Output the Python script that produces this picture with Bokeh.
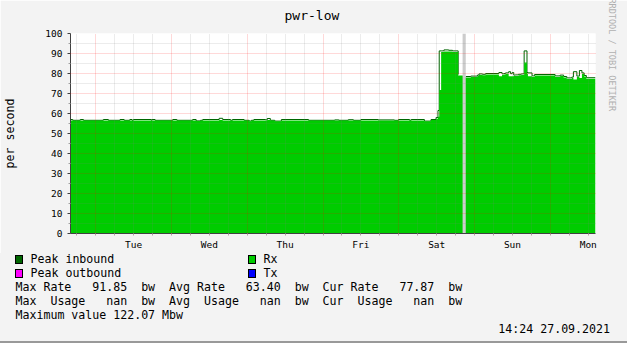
import numpy as np
from bokeh.plotting import figure
from bokeh.models import Range1d, FixedTicker, Title, Div
from bokeh.layouts import column
from bokeh.embed import file_html
from bokeh.resources import INLINE

NAN = float("nan")

# ---- data (hours since Mon 20.09.2021 00:00) ----
HOURS = [16.0, 16.7, 19.1, 20.1, 26.4, 28.0, 31.7, 33.0, 34.8, 35.5, 35.9, 41.6, 41.8, 42.8,
         48.4, 49.7, 54.7, 55.8, 57.2, 57.9, 63.1, 64.2, 66.7, 67.3, 71.0, 72.6, 73.3, 74.1,
         77.8, 78.3, 79.3, 80.7, 82.8, 91.4, 99.7, 101.0, 104.0, 105.6, 108.0, 113.4, 118.6,
         119.9, 123.4, 123.9, 128.1, 130.2, 131.8, 132.4, 132.8, 133.4, 134.3, 135.8, 137.0,
         138.8, 140.2, 141.2, 142.8, 144.9, 145.4, 146.5, 147.5, 151.7, 152.7, 153.3, 153.8,
         154.8, 155.4, 155.9, 156.4, 156.9, 157.9, 158.8, 159.7, 160.6, 160.9, 162.2, 163.0,
         169.5, 171.1, 172.2, 173.2, 174.8, 175.3, 176.4, 177.2, 178.0, 178.7, 179.4, 182.3]
PEAK_INBOUND = [57.0, 56.6, 57.0, 56.6, 57.0, 56.6, 57.0, 56.6, 57.0, 56.6, 57.0, 56.6, 57.0, 56.6,
                57.0, 56.6, 57.0, 56.3, 56.6, 57.0, 57.6, 57.0, 56.6, 57.0, 56.6, 56.2, 56.6, 57.0,
                56.8, 57.5, 56.6, 56.2, 57.0, 56.6, 56.8, 56.6, 56.9, 56.6, 57.0, 56.8, 56.6,
                57.0, 56.6, 57.0, 56.2, 57.0, 58.0, 61.5, 91.3, 91.3, 91.8, 91.6, 91.3,
                79.5, NAN, 78.5, 78.7, 79.2, 79.8, 79.6, 80.0, 80.5, 79.8, 80.0, 80.3,
                80.9, 79.9, 80.5, 79.2, 79.3, 79.6, 79.8, 91.3, 80.5, 80.3, 78.8, 79.5,
                78.8, 79.2, 78.5, 77.8, 78.2, 80.9, 78.7, 81.5, 80.3, 79.0, 77.9, 77.9]
RX = [56.5, 56.5, 56.5, 56.5, 56.5, 56.5, 56.5, 56.5, 56.5, 56.5, 56.5, 56.5, 56.5, 56.5,
      56.5, 56.5, 56.5, 56.2, 56.5, 56.5, 56.7, 56.5, 56.5, 56.5, 56.5, 56.1, 56.5, 56.5,
      56.5, 56.7, 56.5, 56.1, 56.5, 56.5, 56.5, 56.5, 56.5, 56.5, 56.5, 56.5, 56.5,
      56.5, 56.5, 56.5, 56.1, 56.7, 57.4, 58.4, 71.8, 90.8, 91.0, 91.0, 90.8,
      79.0, NAN, 78.0, 78.2, 78.7, 79.3, 79.1, 79.5, 78.6, 79.3, 79.5, 79.8,
      78.6, 78.6, 78.6, 78.7, 78.8, 79.1, 79.3, 85.5, 80.0, 78.6, 78.3, 79.0,
      78.3, 78.7, 78.0, 77.3, 77.7, 77.0, 78.2, 77.8, 79.8, 78.5, 77.4, 77.4]
GAP_START = [140.2]
GAP_END = [141.2]

DAY_NOONS = [36, 60, 84, 108, 132, 156, 180]
DAY_LABELS = ["Tue", "Wed", "Thu", "Fri", "Sat", "Sun", "Mon"]
MIDNIGHTS = [24, 48, 72, 96, 120, 144, 168]
SIX_HOURS = list(range(18, 181, 6))
Y_MAJOR = list(range(0, 101, 10))
Y_MINOR = list(range(5, 100, 10))

TITLE = "pwr-low"
Y_LABEL = "per second"
LEGEND_NAMES = ["Peak inbound", "Rx", "Peak outbound", "Tx"]
LEGEND_COLORS = ["#006600", "#00cc00", "#ff00ff", "#0000ff"]
STAT_LINES = [
    "Max Rate   91.85  bw  Avg Rate   63.40  bw  Cur Rate   77.87  bw",
    "Max  Usage   nan  bw  Avg  Usage   nan  bw  Cur  Usage   nan  bw",
    "Maximum value 122.07 Mbw",
]
TIMESTAMP = "14:24 27.09.2021"
WATERMARK = "RRDTOOL / TOBI OETIKER"

W = 627
TOP_H = 253
LEG_H = 90
MONO = "DejaVu Sans Mono"
BG = "#f3f3f3"

# ---------------- main chart ----------------
p = figure(width=W, height=TOP_H, output_backend="svg", toolbar_location=None,
           x_range=Range1d(16.0, 182.3), y_range=Range1d(0, 100),
           min_border_left=67, min_border_right=32, min_border_top=33, min_border_bottom=20,
           background_fill_color="white", border_fill_color=BG,
           outline_line_color=None)

p.title.text = TITLE
p.title.align = "left"
p.title.offset = 214
p.title.vertical_align = "top"
p.title.standoff = 15.5
p.title.text_font = MONO
p.title.text_font_size = "13px"
p.title.text_font_style = "normal"
p.title.text_color = "black"

p.add_layout(Title(text=WATERMARK, align="left", vertical_align="top", offset=-35,
                   standoff=19, text_font=MONO, text_font_size="8.5px",
                   text_font_style="normal", text_color="#b0b0b0"), "right")

# peak line first, Rx area drawn over it (rrdtool order)
p.step(x=np.array(HOURS), y=np.array(PEAK_INBOUND, dtype=float), mode="after",
       line_color="#006600", line_width=1)
p.varea_step(x=np.array(HOURS), y1=0, y2=np.array(RX, dtype=float), step_mode="after",
             fill_color="#00cc00")
p.quad(left=GAP_START, right=GAP_END, bottom=0, top=100, fill_color="#cccccc", line_color=None)

xa = p.xaxis[0]
xa.ticker = FixedTicker(ticks=DAY_NOONS, minor_ticks=SIX_HOURS)
xa.major_label_overrides = {t: l for t, l in zip(DAY_NOONS, DAY_LABELS)}
xa.major_tick_line_color = None
xa.major_tick_out = 2
xa.major_tick_in = 0
xa.minor_tick_out = 2
xa.minor_tick_in = 0
xa.minor_tick_line_color = "#b0a0a0"
xa.major_label_standoff = 3
xa.axis_line_color = "#404040"

ya = p.yaxis[0]
ya.ticker = FixedTicker(ticks=Y_MAJOR, minor_ticks=Y_MINOR)
ya.major_tick_out = 3
ya.major_tick_in = 0
ya.minor_tick_out = 2
ya.minor_tick_in = 0
ya.major_tick_line_color = "#404040"
ya.minor_tick_line_color = "#a0a0a0"
ya.major_label_standoff = 5
ya.axis_line_color = "#404040"
ya.axis_label = Y_LABEL
ya.axis_label_standoff = 25
ya.axis_label_text_font = MONO
ya.axis_label_text_font_size = "11.6px"
ya.axis_label_text_font_style = "normal"
ya.axis_label_text_color = "black"

for ax in (xa, ya):
    ax.major_label_text_font = MONO
    ax.major_label_text_font_size = "9.5px"
    ax.major_label_text_color = "black"

grid_minor_x = [h for h in SIX_HOURS if h not in MIDNIGHTS]
p.xgrid.ticker = FixedTicker(ticks=MIDNIGHTS, minor_ticks=grid_minor_x)
p.ygrid.ticker = FixedTicker(ticks=[v for v in Y_MAJOR if v > 0], minor_ticks=Y_MINOR)
for g in (p.xgrid[0], p.ygrid[0]):
    g.grid_line_color = "#ff0000"
    g.grid_line_alpha = 0.3
    g.grid_line_dash = "1 1"
    g.minor_grid_line_color = "#808080"
    g.minor_grid_line_alpha = 0.3
    g.minor_grid_line_dash = "1 1"
    g.level = "overlay"

# ---------------- legend / footer ----------------
ROW_TOP = -0.7      # first text row top inside the footer (px)
ROW_H = 14.0
parts = []
for i, (name, col) in enumerate(zip(LEGEND_NAMES, LEGEND_COLORS)):
    r, c = divmod(i, 2)
    sx = 15 if c == 0 else 248
    top = ROW_TOP + r * ROW_H
    parts.append(
        f'<div style="position:absolute;left:{sx}px;top:{top + 2.7:.1f}px;width:8px;height:9px;'
        f'box-sizing:border-box;border:1px solid #000;background:{col};"></div>')
    parts.append(
        f'<span style="position:absolute;left:{sx + 15.5}px;top:{top:.1f}px;">{name}</span>')
for j, line in enumerate(STAT_LINES):
    top = ROW_TOP + (2 + j) * ROW_H
    parts.append(f'<span style="position:absolute;left:15.5px;top:{top:.1f}px;">{line}</span>')
parts.append(f'<span style="position:absolute;right:17px;top:68.7px;">{TIMESTAMP}</span>')
parts.append('<div style="position:absolute;left:0;right:0;bottom:0;height:2px;'
             'background:#999999;"></div>')

html = (f'<div style="position:relative;width:{W}px;height:{LEG_H}px;margin:0;padding:0;'
        f'background:{BG};color:#000;font-family:\'{MONO}\',monospace;font-size:11.6px;'
        f'line-height:14px;white-space:pre;overflow:hidden;">' + "".join(parts) + "</div>")
footer = Div(text=html, width=W, height=LEG_H, margin=(0, 0, 0, 0),
             styles={"background-color": BG})

layout = column(p, footer, spacing=0)
open("out.html", "w").write(file_html(layout, INLINE))
